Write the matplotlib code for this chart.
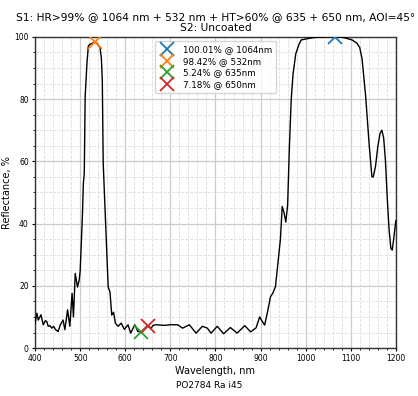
import matplotlib
matplotlib.use("Agg")
import matplotlib.pyplot as plt
from matplotlib.ticker import MultipleLocator

wavelength = [400, 404, 407, 413, 418, 423, 426, 429, 433, 437, 441, 445, 451, 456, 462, 466, 472, 477,
              482, 485, 489, 494, 498, 500, 505, 507, 509, 511, 515, 518, 521, 526, 532, 538, 544, 547,
              549, 551, 555, 562, 566, 570, 574, 578, 584, 591, 598, 606, 612, 621, 628, 635, 642, 650,
              657, 662, 668, 677, 687, 700, 716, 727, 742, 757, 771, 782, 790, 804, 818, 833, 848, 865,
              878, 890, 898, 904, 909, 916, 922, 927, 933, 939, 944, 948, 952, 956, 960, 964, 968, 972,
              978, 985, 990, 1000, 1007, 1020, 1035, 1047, 1066, 1080, 1091, 1103, 1114, 1120, 1125,
              1133, 1141, 1147, 1150, 1155, 1160, 1165, 1169, 1173, 1177, 1181, 1185, 1189, 1192, 1195,
              1200]
reflectance = [8.0, 11.2, 9.0, 10.7, 7.5, 8.8, 8.5, 7.0, 7.2, 6.4, 7.0, 6.0, 5.3, 7.5, 9.0, 5.9, 12.3, 7.0,
               17.6, 10.0, 24.0, 19.6, 22.0, 25.0, 43.0, 53.0, 56.0, 80.8, 91.6, 97.0, 97.6, 97.8, 98.4,
               97.8, 96.5, 93.0, 86.0, 59.5, 45.0, 19.7, 18.0, 10.6, 11.5, 8.0, 7.0, 8.0, 6.0, 7.5, 4.8,
               7.5, 5.3, 5.2, 6.0, 7.2, 6.4, 7.3, 7.5, 7.4, 7.3, 7.5, 7.5, 6.4, 7.5, 4.8, 7.0, 6.4, 4.8,
               7.0, 4.6, 6.6, 4.8, 7.2, 5.2, 6.5, 10.0, 8.5, 7.4, 12.0, 16.5, 17.6, 19.7, 28.0, 35.0,
               45.5, 43.5, 40.5, 46.0, 65.0, 80.0, 88.0, 94.5, 97.5, 99.0, 99.3, 99.5, 99.8, 99.9, 100.0,
               100.0, 99.9, 99.5, 99.0, 97.9, 96.5, 93.0, 81.0, 65.0, 55.0, 55.0, 58.5, 64.7, 69.0, 70.0,
               67.5, 60.0, 48.0, 38.0, 32.0, 31.5, 34.8, 41.0]

mark_wl = [1064, 532, 635, 650]
mark_r = [100.01, 98.42, 5.24, 7.18]
mark_labels = ["100.01% @ 1064nm", "98.42% @ 532nm", "5.24% @ 635nm", "7.18% @ 650nm"]
mark_colors = ["#1f77b4", "#ff7f0e", "#2ca02c", "#d62728"]

fig = plt.figure(figsize=(4.18, 3.96), dpi=100)
ax = fig.add_axes([0.084, 0.121, 0.863, 0.786])
ax.plot(wavelength, reflectance, color="black", lw=1.0, zorder=3)
for w, r, lab, c in zip(mark_wl, mark_r, mark_labels, mark_colors):
    ax.plot([w], [r], marker="x", ls="none", ms=9.5, mew=1.3, color=c, label=lab, zorder=4)

ax.set_xlim(400, 1200)
ax.set_ylim(0, 100)
ax.xaxis.set_major_locator(MultipleLocator(100))
ax.xaxis.set_minor_locator(MultipleLocator(20))
ax.yaxis.set_major_locator(MultipleLocator(20))
ax.yaxis.set_minor_locator(MultipleLocator(5))
ax.grid(which="major", color="#cccccc", lw=0.9)
ax.grid(which="minor", color="#dddddd", lw=0.6, ls="--")
for s in ax.spines.values():
    s.set_color("#333333")
    s.set_linewidth(1.0)
ax.tick_params(labelsize=5.5, length=2.5, pad=2)
ax.tick_params(which="minor", length=1.5)
ax.set_xlabel("Wavelength, nm", fontsize=7, labelpad=2)
ax.set_ylabel("Reflectance, %", fontsize=7, labelpad=1.5)
ax.set_title("S1: HR>99% @ 1064 nm + 532 nm + HT>60% @ 635 + 650 nm, AOI=45°\nS2: Uncoated",
             fontsize=7.7, pad=4)
ax.legend(loc="upper center", fontsize=6.3, handletextpad=0.8, borderpad=0.45,
          labelspacing=0.3, bbox_to_anchor=(0.5, 1.0))
fig.text(0.5, 0.02, "PO2784 Ra i45", ha="center", fontsize=6.5)
fig.savefig("out.png", dpi=100)
